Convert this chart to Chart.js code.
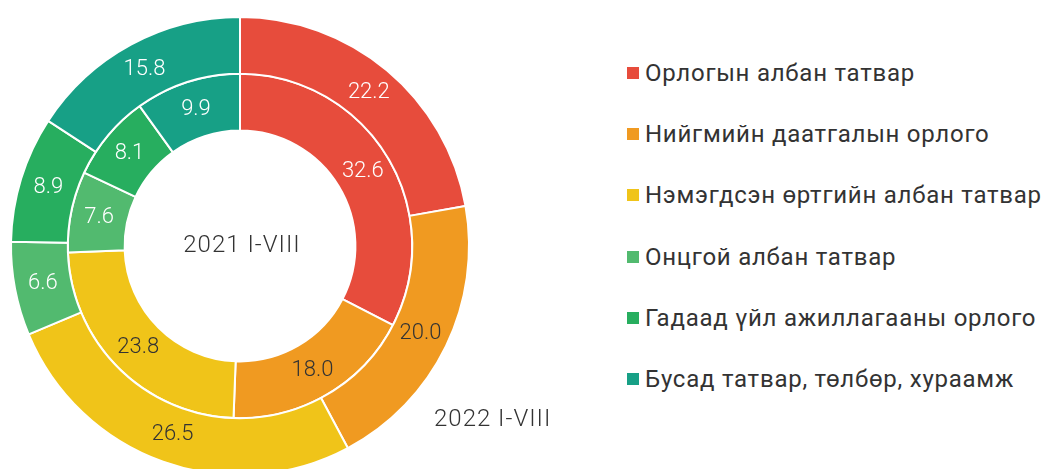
<!DOCTYPE html>
<html><head><meta charset="utf-8">
<script src="https://cdn.jsdelivr.net/npm/chart.js@4"></script>
<style>
html,body{margin:0;padding:0;width:1047px;height:469px;overflow:hidden;background:#fff;font-family:Roboto,sans-serif;}
#wrap{position:absolute;left:0;top:0;width:480px;height:490px;}
#legend{position:absolute;left:627px;top:0;margin:0;padding:0;list-style:none;}
#legend li{position:absolute;left:0;white-space:nowrap;font-size:24px;line-height:28px;letter-spacing:0.75px;color:#333;font-weight:400;display:flex;align-items:center;}
#legend span.box{display:inline-block;width:12px;height:12px;margin-right:6px;}
#s2022{position:absolute;left:434px;top:404px;font-size:24px;line-height:28px;letter-spacing:1px;color:#333;font-weight:300;}
</style></head>
<body>
<div id="wrap"><canvas id="c" width="480" height="490"></canvas></div>
<ul id="legend"></ul>
<div id="s2022"></div>
<script>
const categories = ["Орлогын албан татвар","Нийгмийн даатгалын орлого","Нэмэгдсэн өртгийн албан татвар","Онцгой албан татвар","Гадаад үйл ажиллагааны орлого","Бусад татвар, төлбөр, хураамж"];
const values2022 = [22.2, 20.0, 26.5, 6.6, 8.9, 15.8];
const values2021 = [32.6, 18.0, 23.8, 7.6, 8.1, 9.9];
const seriesLabels = ["2022 I-VIII","2021 I-VIII"];
const colors = ["#E74C3C","#F09A21","#F0C419","#52BA6F","#27AE5F","#17A086"];
const labelColors = ["#ffffff","#333333","#333333","#ffffff","#ffffff","#ffffff"];

document.getElementById('s2022').textContent = seriesLabels[0];
const legend = document.getElementById('legend');
categories.forEach((c,i)=>{
  const li=document.createElement('li');
  li.style.top=(59+i*61.2)+'px';
  li.innerHTML='<span class="box" style="background:'+colors[i]+'"></span>'+c;
  legend.appendChild(li);
});

const labelPlugin = {
  id:'arcLabels',
  afterDatasetsDraw(chart){
    const ctx=chart.ctx;
    ctx.save();
    ctx.font='300 22px Roboto';
    ctx.textAlign='center';ctx.textBaseline='middle';
    chart.data.datasets.forEach((ds,di)=>{
      const meta=chart.getDatasetMeta(di);
      meta.data.forEach((arc,i)=>{
        const p=arc.tooltipPosition();
        ctx.fillStyle=labelColors[i];
        ctx.fillText(ds.data[i].toFixed(1),p.x,p.y);
      });
    });
    const arc0=chart.getDatasetMeta(0).data[0];
    ctx.fillStyle='#333';
    ctx.font='300 24px Roboto';
    ctx.letterSpacing='1px';
    ctx.fillText(seriesLabels[1],arc0.x+2,arc0.y);
    ctx.restore();
  }
};

new Chart(document.getElementById('c'),{
  type:'doughnut',
  data:{labels:categories,datasets:[
    {label:seriesLabels[0],data:values2022,backgroundColor:colors,borderColor:'#fff',borderWidth:2},
    {label:seriesLabels[1],data:values2021,backgroundColor:colors,borderColor:'#fff',borderWidth:2}
  ]},
  options:{responsive:false,animation:false,cutout:'50.4%',
    layout:{padding:{left:10,top:16,right:10,bottom:14}},
    plugins:{legend:{display:false},tooltip:{enabled:false}}},
  plugins:[labelPlugin]
});
</script>
</body></html>
